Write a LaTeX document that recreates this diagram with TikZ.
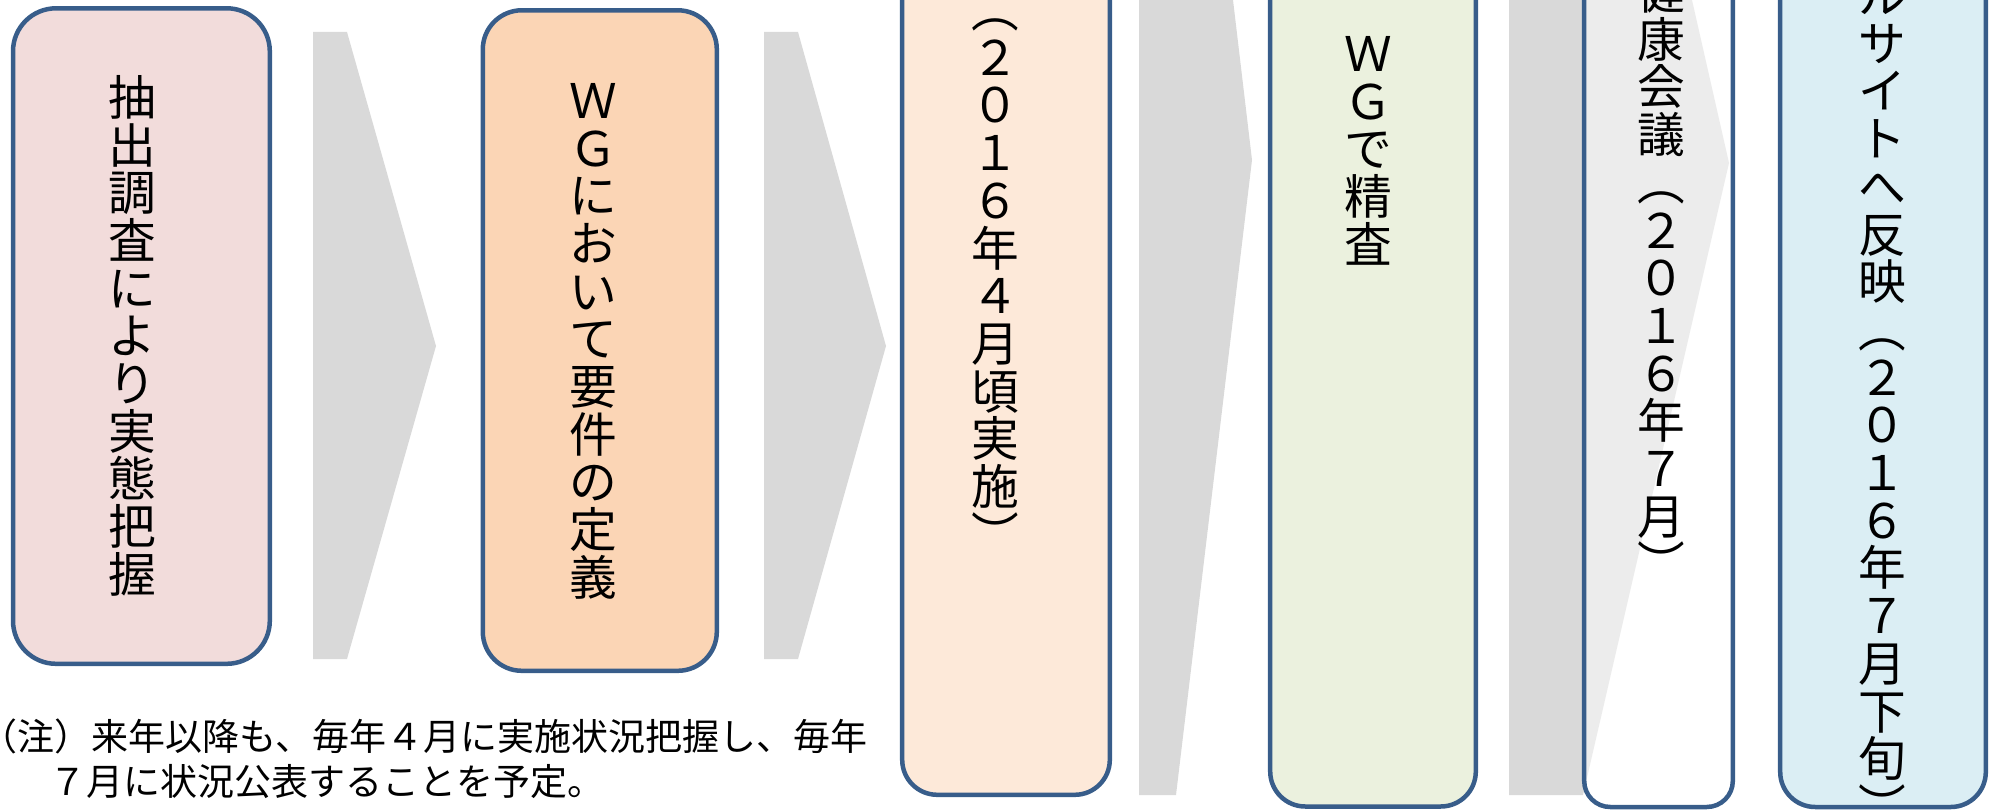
\documentclass[tikz,border=0pt]{standalone}
\usepackage{fontspec}
\setmainfont{Noto Sans CJK JP}
\definecolor{bord}{HTML}{385D8A}
\definecolor{fillA}{HTML}{F2DCDB}
\definecolor{fillB}{HTML}{FBD5B5}
\definecolor{fillC}{HTML}{FDE9D9}
\definecolor{fillD}{HTML}{EBF1DE}
\definecolor{fillF}{HTML}{DBEEF4}
\definecolor{chev}{HTML}{D9D9D9}
\makeatletter
\newcommand\vtextcol[1]{\vbox{\offinterlineskip\vtext@loop#1\relax}}
\def\vtext@loop#1{\ifx\relax#1\else\hbox to 1em{\hss\vrule height .88em depth .12em width 0pt\relax #1\hss}\expandafter\vtext@loop\fi}
\makeatother
\tikzset{
  stepbox/.style={draw=bord, line width=4.5pt},
  chevshape/.style={fill=chev, draw=none},
  vcol/.style={inner sep=0pt, anchor=north, font=\fontsize{47.7}{47.7}\selectfont},
  notetext/.style={inner sep=0pt, anchor=base west, font=\fontsize{37}{44}\selectfont},
}
\begin{document}
\begin{tikzpicture}[x=1pt,y=-1pt]
\useasboundingbox (0,0) rectangle (1989,810);
\clip (0,0) rectangle (1989,810);
% chevrons
\fill[chevshape] (313,32) -- (347,32) -- (436,346) -- (347,659) -- (313,659) -- cycle;
\fill[chevshape] (764,32) -- (798,32) -- (886,346) -- (798,659) -- (764,659) -- cycle;
\fill[chevshape] (1139,-480) -- (1176,-480) -- (1252,160) -- (1176,795) -- (1139,795) -- cycle;
\fill[chevshape] (1509,-480) -- (1583,-480) -- (1729,163) -- (1583,795) -- (1509,795) -- cycle;
% boxes
\draw[stepbox, fill=fillA, rounded corners=43pt] (13,8.3) rectangle (269.8,663.8);
\draw[stepbox, fill=fillB, rounded corners=39pt] (482.8,10.3) rectangle (716.8,670.8);
\draw[stepbox, fill=fillC, rounded corners=35pt] (902.2,-60) rectangle (1109.8,794.8);
\draw[stepbox, fill=fillD, rounded corners=35pt] (1270.2,-60) rectangle (1475.8,806.5);
\draw[stepbox, fill=white, fill opacity=0.5, rounded corners=26pt] (1584.2,-60) rectangle (1732.8,807);
\draw[stepbox, fill=fillF, rounded corners=35pt] (1780.2,-60) rectangle (1985.8,807);
% texts
\node[vcol] (t1) at (132,73.2) {\vtextcol{抽出調査により実態把握}};
\node[vcol] (t2) at (593,76.2) {\vtextcol{ＷＧにおいて要件の定義}};
\node[vcol] (t3) at (995,-14.6) {\vtextcol{︵２０１６年４月頃実施︶}};
\node[vcol] (t4) at (1368,29.2) {\vtextcol{ＷＧで精査}};
\node[vcol] (t5) at (1661,-32.6) {\vtextcol{健康会議︵２０１６年７月︶}};
\node[vcol] (t6) at (1882,-28.6) {\vtextcol{ルサイトへ反映︵２０１６年７月下旬︶}};
\node[notetext] (note1) at (-20,750) {（注）来年以降も、毎年４月に実施状況把握し、毎年};
\node[notetext] (note2) at (49,795) {７月に状況公表することを予定。};
\end{tikzpicture}
\end{document}
